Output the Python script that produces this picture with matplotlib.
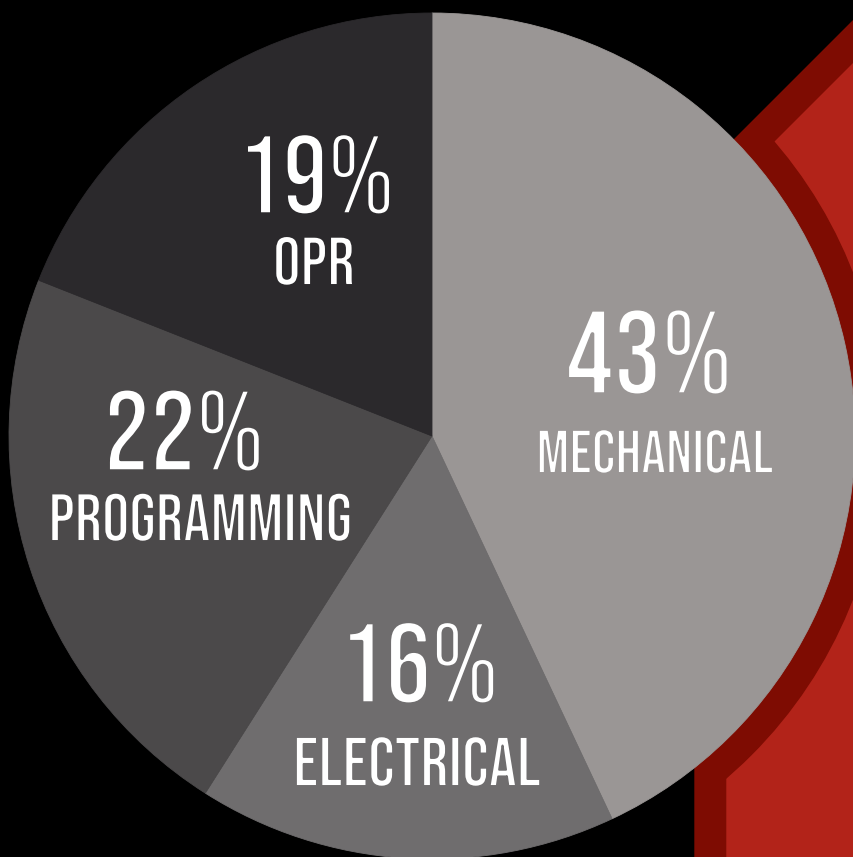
import matplotlib
matplotlib.use("Agg")
import matplotlib.pyplot as plt
import matplotlib.patches as mpatches
import matplotlib.patheffects as pe
from matplotlib import font_manager
from matplotlib.font_manager import FontProperties
from matplotlib.textpath import TextPath

labels = ["MECHANICAL", "ELECTRICAL", "PROGRAMMING", "OPR"]
shares = [43, 16, 22, 19]
colors = ["#9a9695", "#6f6d6e", "#4b494a", "#2b292c"]

W, H = 854, 857
cx, cy, R = 432, 436, 423

have = {f.name for f in font_manager.fontManager.ttflist}
family = "Liberation Sans"
for cand in ["Bebas Neue", "Oswald", "Roboto Condensed"]:
    if cand in have:
        family = cand
        break
fp = FontProperties(family=family)
cap_ratio = TextPath((0, 0), "H", size=100, prop=fp).get_extents().height / 100

fig = plt.figure(figsize=(W / 100, H / 100), dpi=100, facecolor="black")
ax = fig.add_axes([0, 0, 1, 1])
ax.set_facecolor("black")

# red shape behind the pie: dark border, lighter fill, dark halo round the pie
outer = mpatches.Polygon([(695, 900), (695, 179), (900, -26), (900, 900)],
                         closed=True, color="#7e0c02", zorder=1)
inner = mpatches.Polygon([(727, 900), (727, 190), (943, -26), (943, 900)],
                         closed=True, color="#b22319", zorder=2)
ax.add_patch(outer)
ax.add_patch(inner)
ring = mpatches.Circle((cx, cy), R + 28, color="#7e0c02", zorder=3)
ax.add_patch(ring)
ring.set_clip_path(outer)

# y axis is inverted, so counterclock=True runs clockwise on screen
wedges, _ = ax.pie(shares, colors=colors, startangle=-90, counterclock=True,
                   center=(cx, cy), radius=R)
for w, c in zip(wedges, colors):
    w.set_zorder(4)
    w.set_edgecolor(c)
    w.set_linewidth(0.6)

ax.set_xlim(0, W)
ax.set_ylim(H, 0)
ax.set_aspect("equal")
ax.axis("off")

fig.canvas.draw()
renderer = fig.canvas.get_renderer()


def put(s, x, base, width, cap, size, bg, thin):
    t = ax.text(x, base, s, color="white", ha="center", va="baseline",
                fontsize=size, zorder=5, family=family)
    bb = t.get_window_extent(renderer)
    fw = width / bb.width
    fh = cap / (cap_ratio * size * 100 / 72)
    t.set_fontsize(size * (fw * fh) ** 0.5)
    # paint the outline in the slice colour to get a lighter stroke
    t.set_path_effects([pe.Normal(), pe.Stroke(linewidth=thin, foreground=bg)])
    return t


pct = [f"{v}%" for v in shares]
spots = {
    "MECHANICAL": ((649, 394, 165, 85), (655, 473, 249, 41)),
    "ELECTRICAL": ((419, 703, 151, 85), (417, 786, 248, 49)),
    "PROGRAMMING": ((184, 471, 155, 84), (200, 541, 313, 46)),
    "OPR": ((316, 214, 147, 85), (314, 285, 82, 48)),
}
for lab, p, c in zip(labels, pct, colors):
    (px, pb, pw, ph), (lx, lb, lw, lh) = spots[lab]
    put(p, px, pb, pw, ph, 70, c, 2.5)
    put(lab, lx, lb, lw, lh, 34, c, 1.4)

fig.savefig("out.png", dpi=100, facecolor="black")
